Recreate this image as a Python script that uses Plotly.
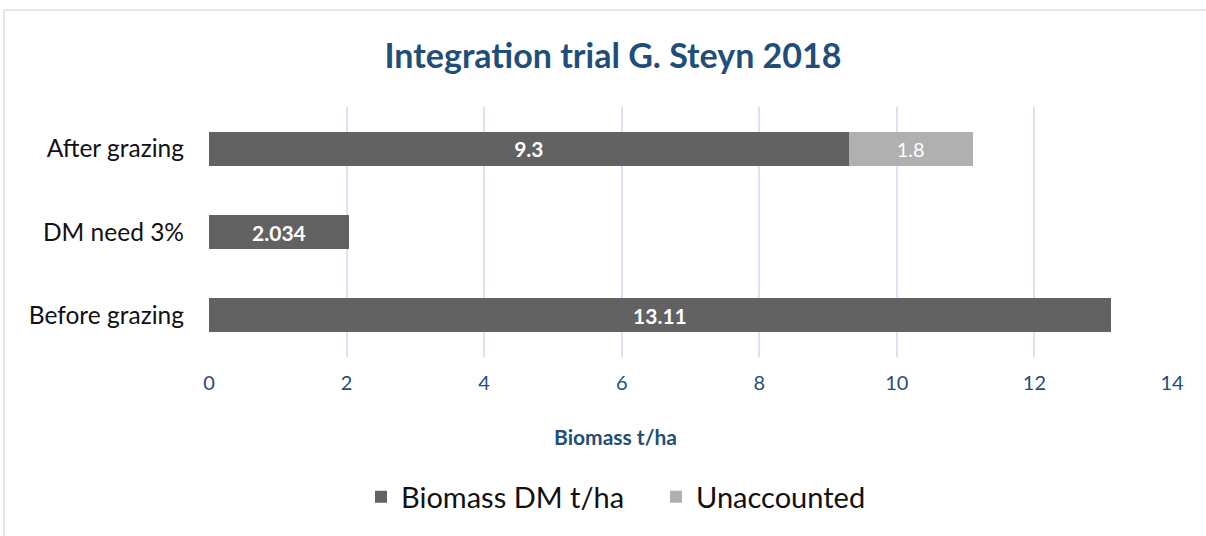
import plotly.graph_objects as go

categories = ["Before grazing", "DM need 3%", "After grazing"]
biomass = [13.11, 2.034, 9.3]
biomass_text = ["13.11", "2.034", "9.3"]
unaccounted = [None, None, 1.8]
unaccounted_text = ["", "", "1.8"]
x_ticks = [0, 2, 4, 6, 8, 10, 12, 14]

FONT = "Lato, Open Sans, sans-serif"
BLUE = "#1F4E79"
CX = (615 - 209) / 963  # chart-area centre in plot paper coords

fig = go.Figure()
fig.add_trace(go.Bar(
    y=categories, x=biomass, orientation="h", name="Biomass DM t/ha",
    marker=dict(color="#626262", line=dict(width=0)),
    text=biomass_text, textposition="inside", insidetextanchor="middle",
    textfont=dict(color="white", size=21, family=FONT, weight="bold"),
    width=0.41,
))
fig.add_trace(go.Bar(
    y=categories, x=unaccounted, orientation="h", name="Unaccounted",
    marker=dict(color="#B0B0B0", line=dict(width=0)),
    text=unaccounted_text, textposition="inside", insidetextanchor="middle",
    textfont=dict(color="white", size=20, family=FONT),
    width=0.41,
))

fig.update_layout(
    barmode="stack",
    width=1206, height=536,
    paper_bgcolor="white", plot_bgcolor="white",
    margin=dict(l=209, r=34, t=107, b=179),
    title=dict(text="<b>Integration trial G. Steyn 2018</b>", x=613 / 1206, xanchor="center",
               y=1 - 56 / 536, yanchor="middle",
               font=dict(family=FONT, size=34, color=BLUE)),
    font=dict(family=FONT),
    xaxis=dict(range=[0, 14], tickvals=x_ticks, showgrid=True, gridcolor="#D9E3F3",
               gridwidth=1.5, zeroline=False, showline=False,
               tickfont=dict(size=20, color=BLUE), ticks="", ticklabelstandoff=12),
    yaxis=dict(showgrid=False, zeroline=False, showline=False, ticks="",
               tickfont=dict(size=24.5, color="#111111"), ticklabelstandoff=24),
    legend=dict(orientation="h", x=(361 - 209) / 963, xanchor="left", y=-(497 - 357) / 250,
                yanchor="middle",
                font=dict(size=29, color="#111111"), traceorder="normal",
                entrywidth=250, entrywidthmode="pixels"),
    showlegend=True,
)

# x-axis title (placed at chart-area centre, as in the reference)
fig.add_annotation(text="<b>Biomass t/ha</b>", xref="paper", yref="paper",
                   x=CX, y=-(436 - 357) / 250, xanchor="center", yanchor="middle",
                   showarrow=False, font=dict(size=21, color=BLUE, family=FONT))

# outer chart-area frame
fig.add_shape(type="rect", xref="paper", yref="paper",
              x0=(4 - 209) / 963, x1=(1230 - 209) / 963,
              y0=(357 - 560) / 250, y1=(357 - 10) / 250,
              line=dict(color="#D6E0F0", width=1.5), fillcolor="rgba(0,0,0,0)", layer="below")

fig.write_html("out.html", config={"displayModeBar": False},
               post_script="document.body.style.margin='0';document.body.style.overflow='hidden';")
